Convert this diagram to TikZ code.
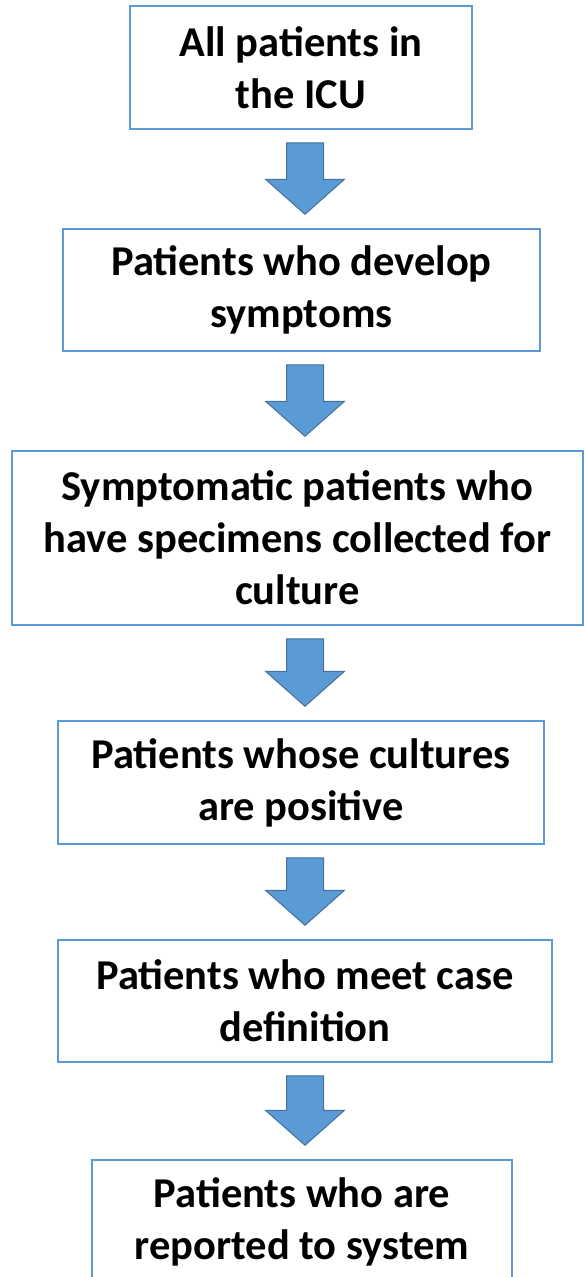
\documentclass[tikz,border=0pt]{standalone}
\usepackage{fontspec}
\setmainfont{Carlito}
\usetikzlibrary{calc}
\definecolor{boxline}{HTML}{5B9BD5}
\definecolor{arrowfill}{HTML}{5B9BD5}
\definecolor{arrowline}{HTML}{41719C}
\tikzset{
  stagebox/.style={draw=boxline, line width=1.5pt, fill=white, align=center,
    font=\fontsize{42.5}{52}\selectfont\bfseries, inner sep=0pt},
  blockarrow/.style={fill=arrowfill, draw=arrowline, line width=1pt, line join=miter},
}
% block arrow between the bottom of one box and the top of the next
\newcommand\flowarrow[2]{%
  \draw[blockarrow] let \p1=(#1.south), \p2=(#2.north) in
    (286.5pt,\y1-13pt) -- (323.5pt,\y1-13pt) -- (323.5pt,\y2+49pt) --
    (344.5pt,\y2+49pt) -- (305pt,\y2+14pt) -- (265.5pt,\y2+49pt) --
    (286.5pt,\y2+49pt) -- cycle;}
\begin{document}
\begin{tikzpicture}[x=1pt,y=-1pt]
  \useasboundingbox (0,0) rectangle (585,1277);
  \clip (0,0) rectangle (585,1277);
  \node[stagebox, minimum width=342pt, minimum height=123pt] (b1) at (301,67.5)
    {All patients in\\the ICU};
  \node[stagebox, minimum width=477pt, minimum height=122pt] (b2) at (301.5,290)
    {Patients who develop\\symptoms};
  \node[stagebox, minimum width=571pt, minimum height=174pt] (b3) at (297.5,538)
    {Symptomatic patients who\\have specimens collected for\\culture};
  \node[stagebox, minimum width=486pt, minimum height=123pt] (b4) at (301,782.5)
    {Patients whose cultures\\are positive};
  \node[stagebox, minimum width=494pt, minimum height=122pt] (b5) at (305,1001)
    {Patients who meet case\\definition};
  \node[stagebox, minimum width=420pt, minimum height=123pt] (b6) at (302,1221.5)
    {Patients who are\\reported to system};
  \flowarrow{b1}{b2}
  \flowarrow{b2}{b3}
  \flowarrow{b3}{b4}
  \flowarrow{b4}{b5}
  \flowarrow{b5}{b6}
\end{tikzpicture}
\end{document}
